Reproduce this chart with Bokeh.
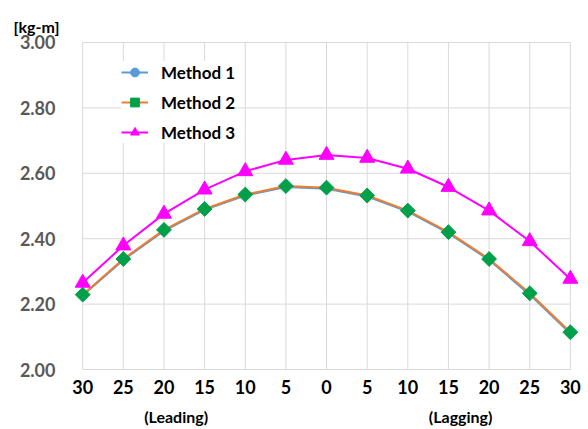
from bokeh.plotting import figure
from bokeh.models import Range1d, FixedTicker, PrintfTickFormatter, Legend, LegendItem, LinearAxis
from bokeh.embed import file_html
from bokeh.resources import INLINE
import numpy as np

# ---- data ----
angle_labels = ["30", "25", "20", "15", "10", "5", "0", "5", "10", "15", "20", "25", "30"]
method1 = [2.226, 2.335, 2.424, 2.488, 2.532, 2.558, 2.553, 2.529, 2.483, 2.417, 2.335, 2.229, 2.110]
method2 = [2.229, 2.338, 2.427, 2.491, 2.535, 2.561, 2.556, 2.532, 2.486, 2.420, 2.338, 2.233, 2.114]
method3 = [2.265, 2.379, 2.476, 2.550, 2.606, 2.641, 2.656, 2.647, 2.614, 2.558, 2.486, 2.392, 2.277]
y_ticks = [2.0, 2.2, 2.4, 2.6, 2.8, 3.0]
unit_label = "[kg-m]"
side_labels = {2.3: "(Leading)", 9.3: "(Lagging)"}

x = list(range(len(angle_labels)))
FONT = "Lato"
GRID = "#D9D9D9"

p = figure(width=588, height=429, output_backend="svg", toolbar_location=None,
           x_range=Range1d(-0.3, 12.2), y_range=Range1d(1.997, 3.003),
           min_border_left=70, min_border_right=10, min_border_top=41, min_border_bottom=59)
p.outline_line_color = None
p.xgrid.visible = False
p.ygrid.visible = False

# title used as the unit label
p.title.text = unit_label
p.title.align = "left"
p.title.offset = -57
p.title.standoff = 11
p.title.text_font = FONT
p.title.text_font_style = "bold"
p.title.text_font_size = "16px"
p.title.text_color = "black"

# grid lines drawn over the category / value extent
n = len(x)
p.segment(x0=[0] * len(y_ticks), x1=[n - 1] * len(y_ticks), y0=y_ticks, y1=y_ticks,
          line_color=GRID, line_width=1)
p.segment(x0=x, x1=x, y0=[y_ticks[0]] * n, y1=[y_ticks[-1]] * n,
          line_color=GRID, line_width=1)

# series
l1 = p.line(x, method1, line_color="#5B9BD5", line_width=2)
s1 = p.scatter(x, method1, marker="circle", size=7, fill_color="#5B9BD5", line_color="#5B9BD5")
l2 = p.line(x, method2, line_color="#ED7D31", line_width=2)
s2 = p.scatter(x, method2, marker="square", angle=np.pi / 4, size=10.5,
               fill_color="#00A04A", line_color="#00A04A")
l3 = p.line(x, method3, line_color="#FF00FF", line_width=2)
s3 = p.scatter(x, method3, marker="triangle", size=15, fill_color="#FF00FF", line_color="#FF00FF")

legend = Legend(items=[LegendItem(label="Method 1", renderers=[l1, s1]),
                       LegendItem(label="Method 2", renderers=[l2, s2]),
                       LegendItem(label="Method 3", renderers=[l3, s3])],
                location=(51, 227), padding=6, spacing=8, glyph_width=27, glyph_height=22,
                label_height=22, label_standoff=13, margin=0,
                border_line_color=None, background_fill_color="white", background_fill_alpha=1.0,
                label_text_font=FONT, label_text_font_style="bold", label_text_font_size="17px",
                label_text_color="black")
p.add_layout(legend, "center")

# axes
p.xaxis.ticker = FixedTicker(ticks=x)
p.xaxis.major_label_overrides = {i: s for i, s in enumerate(angle_labels)}
p.xaxis.axis_line_color = None
p.xaxis.major_tick_line_color = None
p.xaxis.minor_tick_line_color = None
p.xaxis.major_tick_out = 0
p.xaxis.major_tick_in = 0
p.xaxis.minor_tick_out = 0
p.xaxis.major_label_standoff = 9
p.xaxis.major_label_text_font = FONT
p.xaxis.major_label_text_font_style = "bold"
p.xaxis.major_label_text_font_size = "18px"
p.xaxis.major_label_text_color = "black"

side_axis = LinearAxis(ticker=FixedTicker(ticks=list(side_labels.keys())),
                       major_label_overrides=side_labels,
                       axis_line_color=None, major_tick_line_color=None, minor_tick_line_color=None,
                       major_tick_out=0, major_tick_in=0, minor_tick_out=0,
                       major_label_standoff=10, major_label_text_font=FONT,
                       major_label_text_font_style="bold", major_label_text_font_size="16px",
                       major_label_text_color="black")
p.add_layout(side_axis, "below")

p.yaxis.ticker = FixedTicker(ticks=y_ticks)
p.yaxis.formatter = PrintfTickFormatter(format="%.2f")
p.yaxis.axis_line_color = None
p.yaxis.major_tick_line_color = None
p.yaxis.minor_tick_line_color = None
p.yaxis.major_tick_out = 0
p.yaxis.major_tick_in = 0
p.yaxis.minor_tick_out = 0
p.yaxis.major_label_standoff = 15
p.yaxis.major_label_text_font = FONT
p.yaxis.major_label_text_font_style = "bold"
p.yaxis.major_label_text_font_size = "18px"
p.yaxis.major_label_text_color = "#595959"

open("out.html", "w").write(file_html(p, INLINE))
